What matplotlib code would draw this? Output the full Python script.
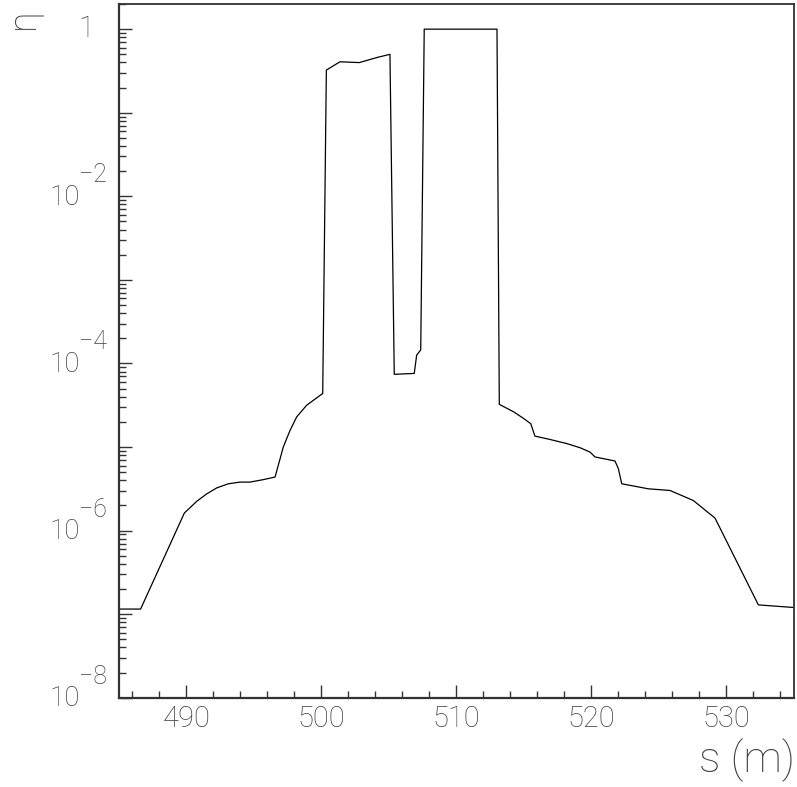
import matplotlib
matplotlib.use("Agg")
import matplotlib.pyplot as plt
from matplotlib.ticker import FixedLocator, LogLocator, MultipleLocator, NullFormatter
from matplotlib.transforms import offset_copy

plt.rcParams['font.family'] = ['Roboto', 'DejaVu Sans']
plt.rcParams['font.weight'] = 'light'

# Longitudinal position along the beam line (m)
s_m = [485.0, 486.6, 489.84, 490.76, 491.5, 492.24, 493.1, 493.96, 494.7, 495.69,
       496.56, 497.17, 497.67, 498.16, 498.9, 500.09, 500.36, 501.37, 502.8, 504.09,
       505.07, 505.39, 506.87, 507.05, 507.35, 507.61, 513.0, 513.17, 514.24, 514.98,
       515.5, 515.81, 516.93, 518.16, 519.15, 519.89, 520.26, 521.74, 521.99, 522.24,
       524.21, 525.81, 527.54, 529.15, 532.36, 535.0]

# Efficiency eta at each position
eta = [1.15e-7, 1.15e-7, 1.62e-6, 2.24e-6, 2.75e-6, 3.24e-6, 3.63e-6, 3.80e-6, 3.80e-6, 4.07e-6,
       4.37e-6, 1.0e-5, 1.58e-5, 2.29e-5, 3.16e-5, 4.37e-5, 0.324, 0.407, 0.398, 0.457,
       0.50, 7.41e-5, 7.59e-5, 1.26e-4, 1.45e-4, 1.0, 1.0, 3.24e-5, 2.63e-5, 2.19e-5,
       1.90e-5, 1.35e-5, 1.23e-5, 1.10e-5, 9.8e-6, 8.7e-6, 7.6e-6, 6.8e-6, 5.5e-6, 3.63e-6,
       3.16e-6, 3.02e-6, 2.29e-6, 1.41e-6, 1.29e-7, 1.20e-7]

x_ticks = [490, 500, 510, 520, 530]
x_tick_labels = ["490", "500", "510", "520", "530"]
y_label_values = [1.0, 1e-2, 1e-4, 1e-6, 1e-8]
y_label_exponents = [None, "\u22122", "\u22124", "\u22126", "\u22128"]

TEXT = '#404040'
FRAME = '#333333'

fig = plt.figure(figsize=(7.97, 7.87), dpi=100)
ax = fig.add_axes([119 / 797, 1 - 697.7 / 787, (794 - 119) / 797, (697.7 - 4) / 787])

ax.plot(s_m, eta, color='black', lw=0.9)

ax.set_yscale('log')
ax.set_xlim(485, 535)
ax.set_ylim(1e-8, 2.0)

for sp in ax.spines.values():
    sp.set_color(FRAME)
    sp.set_linewidth(1.3)
ax.spines['left'].set_linewidth(1.6)
ax.spines['bottom'].set_linewidth(1.6)

ax.xaxis.set_major_locator(FixedLocator(x_ticks))
ax.xaxis.set_minor_locator(MultipleLocator(2))
ax.set_xticklabels(x_tick_labels)
ax.yaxis.set_major_locator(LogLocator(base=10, numticks=20))
ax.yaxis.set_minor_locator(LogLocator(base=10, subs=range(2, 10), numticks=20))
ax.yaxis.set_major_formatter(NullFormatter())
ax.yaxis.set_minor_formatter(NullFormatter())

ax.tick_params(axis='both', which='both', direction='in', color=FRAME,
               top=False, right=False)
ax.tick_params(axis='both', which='major', length=9.3, width=1.0)
ax.tick_params(axis='both', which='minor', length=4.7, width=1.0)
ax.tick_params(axis='x', which='major', labelsize=21, labelcolor=TEXT, pad=5)

# Decade labels on the y axis: plain "1" and 10 with a raised exponent
ytr = ax.get_yaxis_transform()
for val, expo in zip(y_label_values, y_label_exponents):
    if expo is None:
        ax.text(0, val, "1", transform=offset_copy(ytr, fig, x=-25, y=0, units='dots'),
                ha='right', va='center', fontsize=21, color=TEXT)
    else:
        ax.text(0, val, "10", transform=offset_copy(ytr, fig, x=-39, y=-1, units='dots'),
                ha='right', va='center', fontsize=20, color=TEXT)
        ax.text(0, val, expo, transform=offset_copy(ytr, fig, x=-40, y=21, units='dots'),
                ha='left', va='center', fontsize=18, color=TEXT)

fig.text(795 / 797, 1 - 760 / 787, "s (m)", ha='right', va='center',
         fontsize=31, color=TEXT)
fig.text(23 / 797, 1 - 19 / 787, "\u03b7", ha='center', va='center', rotation=90,
         fontsize=27, color=TEXT)

fig.savefig("out.png", dpi=100)
